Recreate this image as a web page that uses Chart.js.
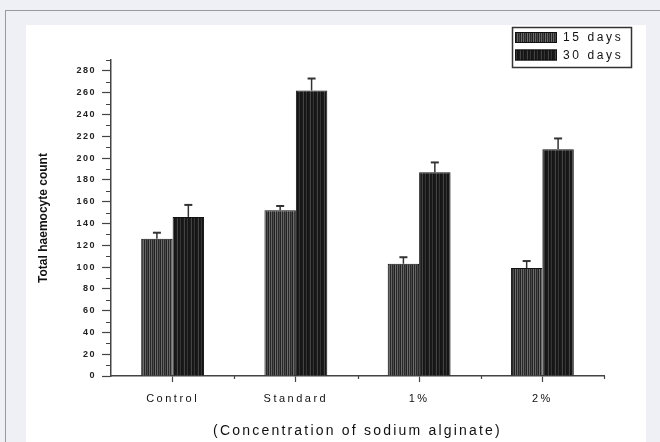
<!DOCTYPE html>
<html>
<head>
<meta charset="utf-8">
<script src="https://cdn.jsdelivr.net/npm/chart.js@4"></script>
<style>
  html, body { margin: 0; padding: 0; }
  body { width: 660px; height: 442px; background: #eef0f6; position: relative; overflow: hidden; }
  #frame { position: absolute; left: 5px; top: 10px; width: 700px; height: 500px; border-left: 1px solid #9a9a9a; border-top: 1px solid #9a9a9a; }
  #panel { position: absolute; left: 26px; top: 25px; width: 620px; height: 420px; background: #fff; }
  #chart { position: absolute; left: 0; top: 0; }
</style>
</head>
<body>
<div id="frame"></div>
<div id="panel"></div>
<canvas id="chart" width="660" height="442"></canvas>
<script>
// data
const categories = ['Control', 'Standard', '1%', '2%'];
const days15 = [126, 152, 103, 99];
const days30 = [146, 262, 187, 208];
const err15 = [5.5, 4, 6, 6.5];
const err30 = [11, 11, 9, 10];
const yTicks = [0, 20, 40, 60, 80, 100, 120, 140, 160, 180, 200, 220, 240, 260, 280];

// vertical stripe fills like the original hatch
function stripes(cols) {
    const c = document.createElement('canvas');
    c.width = cols.length;
    c.height = 4;
    const g = c.getContext('2d');
    cols.forEach((col, i) => { g.fillStyle = col; g.fillRect(i, 0, 1, 4); });
    return g.createPattern(c, 'repeat');
}
const fill15 = stripes(['#262626', '#646464', '#2a2a2a', '#4c4c4c', '#222222', '#6c6c6c']);
const fill30 = stripes(['#181818', '#1c1c1c', '#444444', '#151515', '#1a1a1a', '#353535', '#141414']);

const errorBars = {
    id: 'errorBars',
    afterDatasetsDraw(chart) {
        const ctx = chart.ctx;
        const y = chart.scales.y;
        const errs = [err15, err30];
        chart.data.datasets.forEach((ds, d) => {
            chart.getDatasetMeta(d).data.forEach((bar, i) => {
                const top = y.getPixelForValue(ds.data[i] + errs[d][i]);
                ctx.save();
                ctx.strokeStyle = '#333';
                ctx.lineWidth = 1.5;
                ctx.beginPath();
                ctx.moveTo(bar.x, bar.y);
                ctx.lineTo(bar.x, top);
                ctx.stroke();
                ctx.lineWidth = 2;
                ctx.beginPath();
                ctx.moveTo(bar.x - 4, top);
                ctx.lineTo(bar.x + 4, top);
                ctx.stroke();
                ctx.restore();
            });
        });
    }
};

const minorTicks = {
    id: 'minorTicks',
    afterDraw(chart) {
        const ctx = chart.ctx;
        const {x, y} = chart.scales;
        const area = chart.chartArea;
        ctx.save();
        ctx.strokeStyle = '#444';
        ctx.lineWidth = 1.2;
        ctx.beginPath();
        for (let v = 10; v <= y.max; v += 20) {
            const py = Math.round(y.getPixelForValue(v)) + 0.5;
            ctx.moveTo(area.left - 5, py);
            ctx.lineTo(area.left, py);
        }
        const step = x.getPixelForValue(1) - x.getPixelForValue(0);
        categories.forEach((c, i) => {
            const px = Math.round(x.getPixelForValue(i) + step / 2) + 0.5;
            ctx.moveTo(px, area.bottom);
            ctx.lineTo(px, area.bottom + 3);
        });
        ctx.stroke();
        ctx.restore();
    }
};

const boxLegend = {
    id: 'boxLegend',
    afterDraw(chart) {
        const ctx = chart.ctx;
        ctx.save();
        ctx.strokeStyle = '#333';
        ctx.lineWidth = 1.5;
        ctx.strokeRect(512.5, 27.5, 119, 40);
        ctx.font = '12px "Liberation Sans", Arial, sans-serif';
        ctx.letterSpacing = '2.6px';
        ctx.textBaseline = 'middle';
        chart.data.datasets.forEach((ds, i) => {
            const top = 32 + i * 17.5;
            ctx.fillStyle = ds.backgroundColor;
            ctx.fillRect(515, top, 42, 11);
            ctx.lineWidth = 1;
            ctx.strokeStyle = '#111';
            ctx.strokeRect(515.5, top + 0.5, 41, 10);
            ctx.fillStyle = '#111';
            ctx.fillText(ds.label, 563, top + 6);
        });
        ctx.restore();
    }
};

// per-axis letter spacing for labels and titles
const spacing = {x: ['2.5px', '2.2px'], y: ['1.5px', '0px']};
const spacedText = {
    id: 'spacedText',
    afterLayout(chart) {
        Object.values(chart.scales).forEach(scale => {
            if (scale._spaced) return;
            ['drawLabels', 'drawTitle'].forEach((fn, k) => {
                const orig = scale[fn];
                scale[fn] = function (...args) {
                    const prev = this.ctx.letterSpacing;
                    this.ctx.letterSpacing = spacing[scale.id][k];
                    orig.apply(this, args);
                    this.ctx.letterSpacing = prev;
                };
            });
            scale._spaced = true;
        });
    }
};

Chart.defaults.font.family = '"Liberation Sans", Arial, sans-serif';
Chart.defaults.color = '#111';

new Chart(document.getElementById('chart'), {
    type: 'bar',
    data: {
        labels: categories,
        datasets: [
            {label: '15 days', data: days15, backgroundColor: fill15, borderColor: '#111', borderWidth: 1},
            {label: '30 days', data: days30, backgroundColor: fill30, borderColor: '#111', borderWidth: 1}
        ]
    },
    options: {
        responsive: false,
        devicePixelRatio: 1,
        animation: false,
        layout: {padding: {top: 60, right: 56, left: 0, bottom: 0}},
        categoryPercentage: 0.51,
        barPercentage: 1.0,
        plugins: {legend: {display: false}, tooltip: {enabled: false}},
        scales: {
            x: {
                offset: true,
                grid: {offset: false, drawOnChartArea: false, tickLength: 6, tickColor: '#444', tickWidth: 1.2},
                border: {color: '#444', width: 1.5},
                ticks: {padding: 10, font: {size: 11}, color: '#111', maxRotation: 0, autoSkip: false},
                title: {display: true, text: '(Concentration of sodium alginate)', font: {size: 14}, color: '#111', padding: {top: 0, bottom: 2}},
                afterFit: s => { s.height = 66; }
            },
            y: {
                min: 0,
                max: 290,
                afterBuildTicks: s => { s.ticks = yTicks.map(v => ({value: v})); },
                grid: {drawOnChartArea: false, tickLength: 9, tickColor: '#444', tickWidth: 1.2},
                border: {color: '#444', width: 1.5},
                ticks: {padding: 6, font: {size: 9, weight: 'bold'}, color: '#222'},
                title: {display: true, text: 'Total haemocyte count', font: {size: 12, weight: 'bold'}, color: '#111', padding: {top: 36, bottom: 0}},
                afterFit: s => { s.width = 111; }
            }
        }
    },
    plugins: [errorBars, minorTicks, boxLegend, spacedText]
});
</script>
</body>
</html>
